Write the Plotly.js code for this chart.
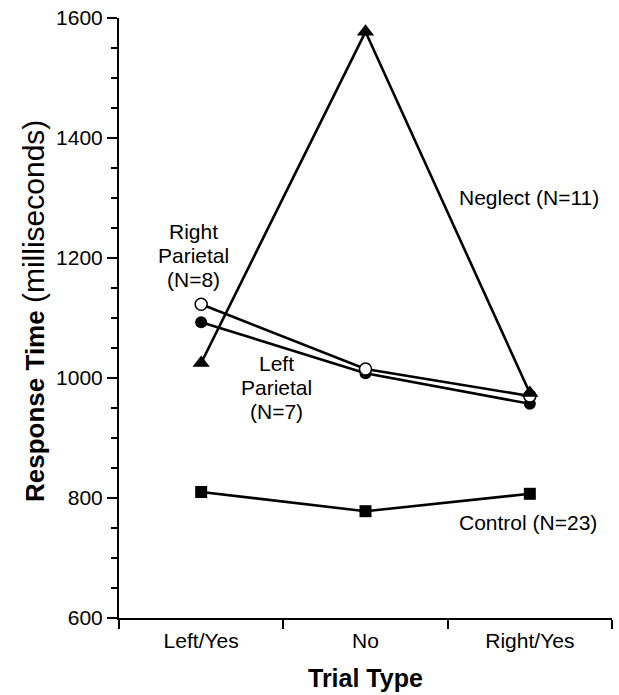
<!DOCTYPE html>
<html>
<head>
<meta charset="utf-8">
<script src="https://cdn.plot.ly/plotly-3.0.1.min.js"></script>
<style>html,body{margin:0;padding:0;background:#fff}#chart{width:619px;height:695px}</style>
</head>
<body>
<div id="chart"></div>
<script>
const categories = ["Left/Yes", "No", "Right/Yes"];
const neglect = [1025, 1577, 975];
const rightParietal = [1123, 1015, 970];
const leftParietal = [1093, 1008, 957];
const control = [810, 778, 807];

const F = "Liberation Sans, Arial, Helvetica, sans-serif";
const lineStyle = {color: "#000", width: 2.6};

const traces = [
  {x: categories, y: control, mode: "lines+markers", line: lineStyle,
   marker: {symbol: "square", size: 12, color: "#000"}},
  {x: categories, y: leftParietal, mode: "lines+markers", line: lineStyle,
   marker: {symbol: "circle", size: 12, color: "#000"}},
  {x: categories, y: rightParietal, mode: "lines+markers", line: lineStyle,
   marker: {symbol: "circle", size: 12, color: "#fff", line: {color: "#000", width: 1.5}}},
  {x: categories, y: neglect, mode: "lines+markers", line: lineStyle,
   marker: {symbol: "triangle-up", size: 15, color: "#000"}}
];

// pixel helpers for label placement (plot area: left 119, top 18, width 493, height 600)
const px = v => (v - 119) / 493;
const py = v => (618 - v) / 600;
const lbl = (text, x, y) => ({xref: "paper", yref: "paper", x: px(x), y: py(y), text: text,
  showarrow: false, xanchor: "center", yanchor: "middle", font: {family: F, size: 21}});

const layout = {
  width: 619, height: 695,
  margin: {l: 119, r: 7, t: 18, b: 77},
  showlegend: false,
  paper_bgcolor: "#fff", plot_bgcolor: "#fff",
  font: {family: F, color: "#000", size: 21},
  xaxis: {
    type: "category", range: [-0.5, 2.5], tickson: "boundaries",
    showline: true, linecolor: "#000", linewidth: 2,
    ticks: "outside", ticklen: 9, tickwidth: 2, tickcolor: "#000",
    ticklabelstandoff: 3,
    showgrid: false, zeroline: false,
    tickfont: {family: F, size: 21}
  },
  yaxis: {
    range: [600, 1600], dtick: 200, tick0: 600,
    showline: true, linecolor: "#000", linewidth: 2,
    ticks: "outside", ticklen: 10, tickwidth: 2, tickcolor: "#000",
    minor: {dtick: 50, ticks: "outside", ticklen: 6, tickwidth: 2, tickcolor: "#000", showgrid: false},
    showgrid: false, zeroline: false,
    tickfont: {family: F, size: 21}
  },
  annotations: [
    {xref: "paper", yref: "paper", x: px(33), y: py(311), textangle: -90,
     text: "<b>Response Time</b> <span style='font-size:30px'>(milliseconds)</span>", showarrow: false,
     font: {family: F, size: 26}, xanchor: "center", yanchor: "middle"},
    {xref: "paper", yref: "paper", x: px(365), y: py(678),
     text: "<b>Trial Type</b>", showarrow: false,
     font: {family: F, size: 25}, xanchor: "center", yanchor: "middle"},
    lbl("Neglect (N=11)", 529, 197),
    lbl("Control (N=23)", 528, 522),
    lbl("Right", 193, 231),
    lbl("Parietal", 193, 255),
    lbl("(N=8)", 193, 279),
    lbl("Left", 276, 363),
    lbl("Parietal", 276, 387),
    lbl("(N=7)", 276, 411)
  ]
};

Plotly.newPlot("chart", traces, layout, {staticPlot: true});
</script>
</body>
</html>
